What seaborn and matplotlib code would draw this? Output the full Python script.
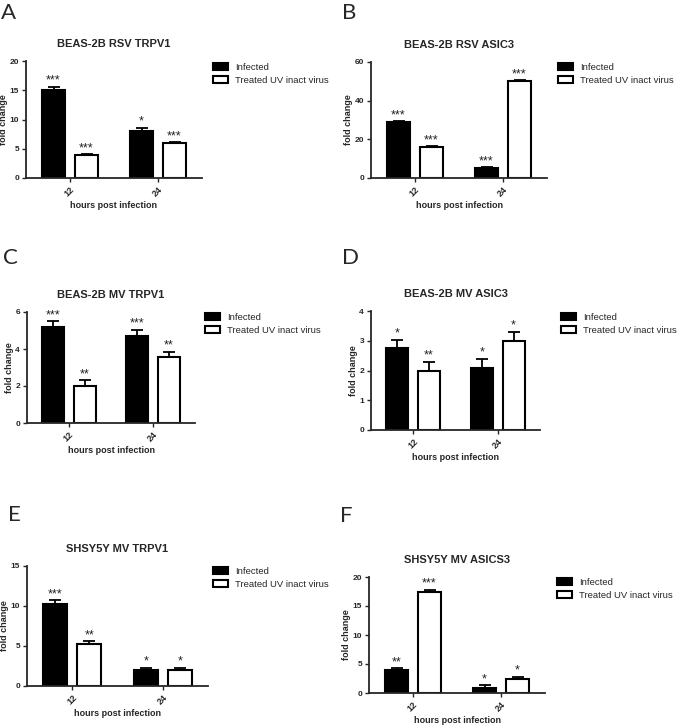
import numpy as np
import pandas as pd
import matplotlib
matplotlib.use("Agg")
import matplotlib.pyplot as plt
import seaborn as sns

# ---- data ----
hours = ["12", "24"]
groups = ["Infected", "Treated UV inact virus"]
letters = ["A", "B", "C", "D", "E", "F"]
titles = ["BEAS-2B RSV TRPV1", "BEAS-2B RSV ASIC3", "BEAS-2B MV TRPV1",
          "BEAS-2B MV ASIC3", "SHSY5Y MV TRPV1", "SHSY5Y MV ASICS3"]

inf_mean = [[15.0, 8.0], [29.0, 5.0], [5.2, 4.7], [2.75, 2.1], [10.3, 2.0], [4.0, 0.8]]
inf_err = [[0.6, 0.6], [0.5, 0.5], [0.3, 0.35], [0.28, 0.3], [0.4, 0.3], [0.3, 0.5]]
trt_mean = [[4.0, 6.0], [16.0, 50.0], [2.0, 3.55], [2.0, 3.0], [5.3, 2.0], [17.5, 2.5]]
trt_err = [[0.1, 0.1], [0.3, 0.7], [0.3, 0.3], [0.3, 0.3], [0.3, 0.3], [0.3, 0.3]]
inf_stars = [["***", "*"], ["***", "***"], ["***", "***"], ["*", "*"], ["***", "*"], ["**", "*"]]
trt_stars = [["***", "***"], ["***", "***"], ["**", "**"], ["**", "*"], ["**", "*"], ["***", "*"]]
y_max = [20, 60, 6, 4, 15, 20]
y_step = [5, 20, 2, 1, 5, 5]

# ---- layout (pixels: left, right, top, bottom) ----
W, H = 677, 725
boxes = [(26, 202, 61, 178), (371, 547, 62, 178), (27, 195, 312, 423),
         (371, 540, 311, 430), (27, 208, 566, 686), (369, 545, 577, 693)]
legend_pos = [(213, 63), (558, 63), (205, 313), (561, 313), (213, 567), (557, 578)]
letter_pos = [(1, 3), (342, 3), (3, 248), (342, 248), (8, 505), (340, 506)]

sns.set_style("ticks")
plt.rcParams["font.family"] = ["Liberation Sans", "DejaVu Sans"]

fig = plt.figure(figsize=(W / 100, H / 100), dpi=100)

for i in range(6):
    l, r, t, b = boxes[i]
    ax = fig.add_axes([l / W, 1 - b / H, (r - l) / W, (b - t) / H])

    df = pd.DataFrame({
        "hours": hours * 2,
        "group": [groups[0]] * 2 + [groups[1]] * 2,
        "fold": inf_mean[i] + trt_mean[i],
    })
    sns.barplot(data=df, x="hours", y="fold", hue="group", hue_order=groups,
                palette={groups[0]: "black", groups[1]: "white"},
                edgecolor="black", linewidth=1.5, width=0.75, gap=0.3,
                errorbar=None, ax=ax)

    errs = [inf_err[i], trt_err[i]]
    stars = [inf_stars[i], trt_stars[i]]
    bar_sets = list(ax.containers)
    for k, cont in enumerate(bar_sets):
        for j, bar in enumerate(cont):
            xc = bar.get_x() + bar.get_width() / 2
            h = bar.get_height()
            ax.errorbar(xc, h, yerr=[[0], [errs[k][j]]], fmt="none",
                        ecolor="black", elinewidth=1.3, capsize=4,
                        capthick=1.3, clip_on=False, zorder=1)
            ax.annotate(stars[k][j], (xc, h + errs[k][j]), xytext=(0, 0),
                        textcoords="offset points", ha="center", va="bottom",
                        fontsize=9, color="#222222")

    ax.set_xlim(-0.5, 1.5)
    ax.set_ylim(0, y_max[i])
    ticks = np.arange(0, y_max[i] + 0.01, y_step[i])
    ax.set_yticks(ticks)
    ax.set_yticklabels([str(int(v)) for v in ticks], fontsize=6, fontweight="bold")
    ax.set_xticks([0, 1])
    ax.set_xticklabels(hours, rotation=45, ha="right", fontsize=6.5,
                       fontweight="bold", rotation_mode="anchor")
    ax.tick_params(length=3, width=1, pad=2)
    sns.despine(ax=ax)
    for s in ["left", "bottom"]:
        ax.spines[s].set_linewidth(1.3)

    ax.set_title(titles[i], fontsize=8, fontweight="bold", pad=10)
    ax.set_xlabel("hours post infection", fontsize=6.5, fontweight="bold", labelpad=2)
    ax.set_ylabel("fold change", fontsize=6.5, fontweight="bold", labelpad=1)

    lx, ly = legend_pos[i]
    ax.legend(frameon=False, loc="upper left", bbox_to_anchor=(lx / W, 1 - ly / H),
              bbox_transform=fig.transFigure, fontsize=6.8, handlelength=1.6,
              handleheight=0.7, handletextpad=0.7, labelspacing=0.4,
              borderpad=0, borderaxespad=0)

    px, py = letter_pos[i]
    fig.text(px / W, 1 - py / H, letters[i], fontsize=16, family="Lato",
             ha="left", va="top")

fig.savefig("out.png", dpi=100)
